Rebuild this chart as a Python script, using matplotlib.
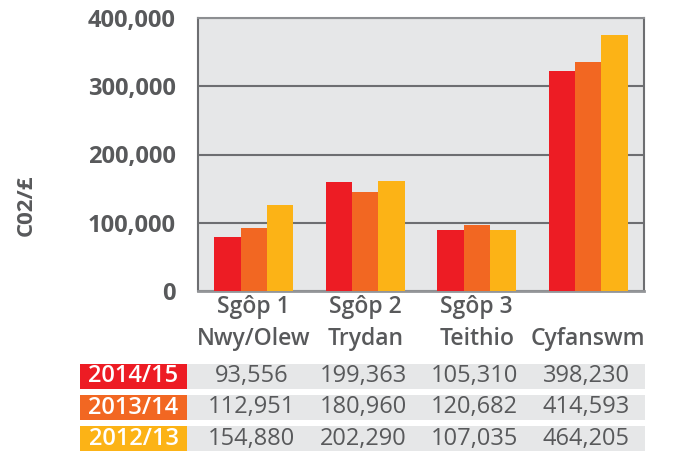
"""Carbon (C02/£) by scope, three years, with a value table underneath."""
import matplotlib.pyplot as plt
import numpy as np

categories = ["Sgôp 1\nNwy/Olew", "Sgôp 2\nTrydan", "Sgôp 3\nTeithio", "\nCyfanswm"]
years = ["2014/15", "2013/14", "2012/13"]
colors = ["#ed1c24", "#f26722", "#fcb316"]

# bar heights
bars_2014 = [78400, 160300, 88700, 322500]
bars_2013 = [92600, 144600, 97000, 335700]
bars_2012 = [126500, 161800, 88700, 375400]

# table values printed under the chart
table_2014 = ["93,556", "199,363", "105,310", "398,230"]
table_2013 = ["112,951", "180,960", "120,682", "414,593"]
table_2012 = ["154,880", "202,290", "107,035", "464,205"]

yticks = [0, 100000, 200000, 300000, 400000]
ytick_labels = ["0", "100,000", "200,000", "300,000", "400,000"]

grey_text = "#58595b"
grid_col = "#6d6e71"
bg = "#e6e7e8"

plt.rcParams['font.family'] = ['Open Sans', 'DejaVu Sans']

fig = plt.figure(figsize=(6.76, 4.53), dpi=100)
W, H = 676, 453

# main bar chart
ax = fig.add_axes([198 / W, 1 - 291 / H, (644 - 198) / W, (291 - 18) / H])
ax.set_facecolor(bg)
x = np.arange(len(categories))
width = 0.235
for i, (vals, col) in enumerate(zip([bars_2014, bars_2013, bars_2012], colors)):
    ax.bar(x + (i - 1) * width, vals, width, color=col, zorder=3)

ax.set_xlim(-0.5, 3.5)
ax.set_ylim(0, 400000)
ax.set_yticks(yticks)
ax.set_yticklabels(ytick_labels, fontsize=17, fontweight='bold', color=grey_text)
ax.set_xticks(x)
ax.set_xticklabels(categories, fontsize=16.5, fontweight='semibold', color=grey_text,
                   linespacing=1.45)
ax.tick_params(axis='y', length=0, pad=16)
ax.tick_params(axis='x', length=0, pad=3)
ax.yaxis.grid(True, color=grid_col, linewidth=1.5, zorder=1)
for side in ['left', 'right', 'top']:
    ax.spines[side].set_color(grid_col)
    ax.spines[side].set_linewidth(1.5)
ax.spines['top'].set_color("#8c8e91")
ax.spines['bottom'].set_color("#939598")
ax.spines['bottom'].set_linewidth(2)

# y label sits lower than the axes centre in the original
fig.text(26 / W, 1 - 205 / H, "C02/£", rotation=90, ha='center', va='center',
         fontsize=16, fontweight='bold', color=grey_text)

# value table below, sharing the category scale
px_per_unit = (644 - 198) / 4
tx0 = -0.5 - (198 - 80) / px_per_unit
tx1 = 3.5 + 1 / px_per_unit
tab = fig.add_axes([80 / W, 1 - 451 / H, (645 - 80) / W, (451 - 364) / H])
tab.set_xlim(tx0, tx1)
tab.set_ylim(2.403, -0.403)
tab.axis('off')
label_end = -0.5 - 11 / px_per_unit
h = 0.806
for r, (yr, col, row) in enumerate(zip(years, colors, [table_2014, table_2013, table_2012])):
    tab.add_patch(plt.Rectangle((tx0, r - h / 2), label_end - tx0, h, color=col, lw=0))
    tab.add_patch(plt.Rectangle((label_end, r - h / 2), tx1 - label_end, h, color=bg, lw=0))
    tab.text((tx0 + label_end) / 2, r, yr, ha='center', va='center', color='white',
             fontsize=17, fontweight='semibold')
    for c, val in enumerate(row):
        tab.text(c - 0.02, r, val, ha='center', va='center', color=grey_text, fontsize=17)

fig.savefig('out.png', dpi=100)
